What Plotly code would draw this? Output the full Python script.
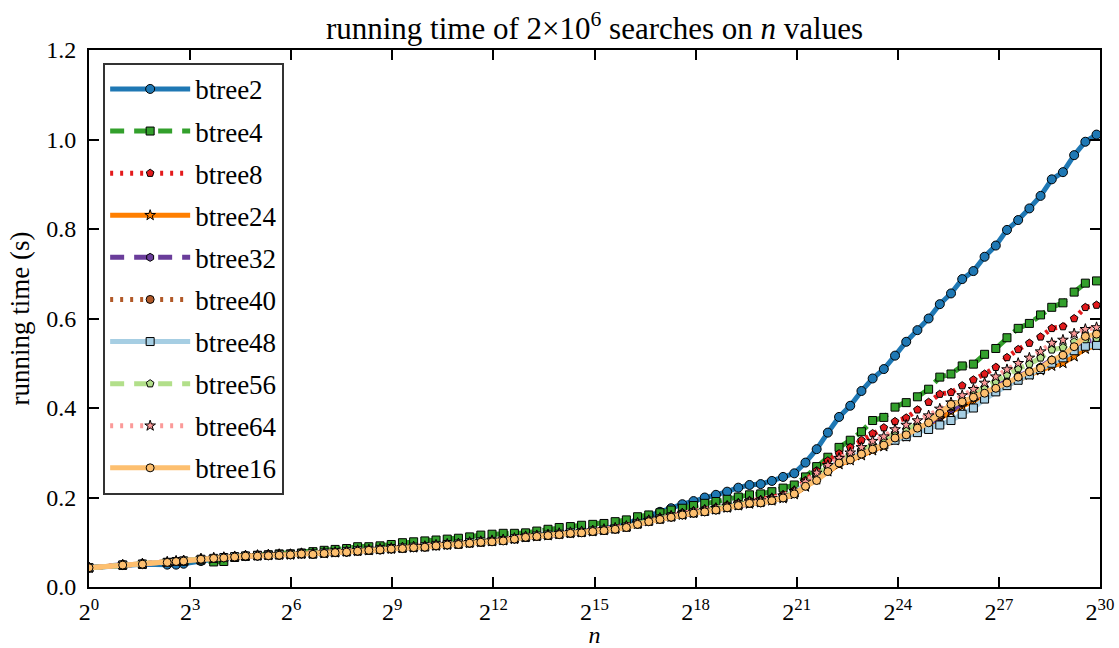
import plotly.graph_objects as go

# x values: n
N = [1, 2, 3, 5, 6, 7,
     10, 13, 16, 20, 25, 32, 40, 50, 63, 79,
     100, 126, 158, 200, 251, 316, 398, 501, 631, 794,
     1000, 1259, 1585, 1995, 2512, 3162, 3981, 5012, 6310, 7943,
     10000, 12589, 15849, 19953, 25119, 31623, 39811, 50119, 63096, 79433,
     100000, 125893, 158489, 199526, 251189, 316228, 398107, 501187, 630957, 794328,
     1000000, 1258925, 1584893, 1995262, 2511886, 3162278, 3981072, 5011872, 6309573, 7943282,
     10000000, 12589254, 15848932, 19952623, 25118864, 31622777, 39810717, 50118723, 63095734, 79432823,
     100000000, 125892541, 158489319, 199526231, 251188643, 316227766, 398107171, 501187234, 630957344, 794328235,
     1000000000]

btree2 = [0.043, 0.049, 0.051, 0.050, 0.050, 0.052,
          0.058, 0.062, 0.064, 0.067, 0.069, 0.070, 0.071, 0.072, 0.073, 0.075,
          0.074, 0.076, 0.078, 0.079, 0.081, 0.083, 0.084, 0.086, 0.087, 0.089,
          0.090, 0.093, 0.095, 0.096, 0.099, 0.101, 0.103, 0.105, 0.109, 0.113,
          0.115, 0.117, 0.119, 0.122, 0.124, 0.127, 0.130, 0.135, 0.142, 0.150,
          0.159, 0.168, 0.176, 0.185, 0.192, 0.200, 0.206, 0.213, 0.222, 0.228,
          0.230, 0.237, 0.246, 0.254, 0.278, 0.308, 0.345, 0.380, 0.405, 0.438,
          0.466, 0.487, 0.517, 0.548, 0.574, 0.600, 0.632, 0.656, 0.688, 0.706,
          0.738, 0.763, 0.798, 0.820, 0.846, 0.874, 0.911, 0.927, 0.965, 0.995,
          1.011]

btree4 = [0.043, 0.049, 0.051, 0.055, 0.057, 0.058,
          0.060, 0.056, 0.057, 0.066, 0.069, 0.071, 0.072, 0.074, 0.074, 0.076,
          0.079, 0.082, 0.084, 0.086, 0.090, 0.090, 0.092, 0.095, 0.099, 0.101,
          0.103, 0.105, 0.107, 0.109, 0.112, 0.116, 0.118, 0.120, 0.120, 0.121,
          0.125, 0.129, 0.133, 0.135, 0.138, 0.140, 0.142, 0.146, 0.150, 0.157,
          0.161, 0.166, 0.172, 0.176, 0.182, 0.187, 0.191, 0.196, 0.201, 0.206,
          0.208, 0.213, 0.221, 0.228, 0.246, 0.269, 0.290, 0.312, 0.328, 0.347,
          0.372, 0.379, 0.402, 0.412, 0.425, 0.442, 0.469, 0.476, 0.494, 0.498,
          0.520, 0.533, 0.557, 0.578, 0.589, 0.608, 0.625, 0.635, 0.659, 0.679,
          0.684]

btree8 = [0.043, 0.049, 0.051, 0.055, 0.057, 0.058,
          0.062, 0.063, 0.066, 0.068, 0.070, 0.071, 0.072, 0.073, 0.073, 0.075,
          0.075, 0.077, 0.078, 0.080, 0.082, 0.083, 0.085, 0.087, 0.088, 0.090,
          0.091, 0.094, 0.096, 0.097, 0.100, 0.102, 0.104, 0.106, 0.109, 0.113,
          0.115, 0.118, 0.120, 0.122, 0.124, 0.127, 0.129, 0.132, 0.137, 0.144,
          0.150, 0.155, 0.160, 0.166, 0.170, 0.174, 0.178, 0.183, 0.188, 0.193,
          0.195, 0.200, 0.206, 0.216, 0.238, 0.260, 0.282, 0.298, 0.312, 0.328,
          0.343, 0.356, 0.370, 0.378, 0.396, 0.413, 0.431, 0.435, 0.450, 0.463,
          0.476, 0.491, 0.513, 0.531, 0.545, 0.559, 0.578, 0.582, 0.600, 0.625,
          0.630]

btree24 = [0.043, 0.049, 0.052, 0.055, 0.057, 0.059,
           0.062, 0.064, 0.066, 0.068, 0.069, 0.070, 0.071, 0.072, 0.072, 0.074,
           0.074, 0.075, 0.077, 0.079, 0.080, 0.082, 0.084, 0.085, 0.087, 0.088,
           0.090, 0.092, 0.094, 0.096, 0.098, 0.100, 0.102, 0.104, 0.107, 0.111,
           0.113, 0.115, 0.118, 0.120, 0.122, 0.124, 0.127, 0.130, 0.134, 0.141,
           0.147, 0.152, 0.157, 0.161, 0.165, 0.169, 0.173, 0.177, 0.182, 0.186,
           0.189, 0.193, 0.198, 0.207, 0.224, 0.240, 0.258, 0.274, 0.283, 0.294,
           0.305, 0.314, 0.328, 0.336, 0.348, 0.360, 0.376, 0.392, 0.404, 0.416,
           0.428, 0.440, 0.452, 0.463, 0.474, 0.484, 0.494, 0.500, 0.515, 0.532,
           0.540]

btree32 = [0.043, 0.050, 0.051, 0.056, 0.057, 0.058,
           0.062, 0.065, 0.066, 0.068, 0.070, 0.070, 0.071, 0.072, 0.073, 0.074,
           0.074, 0.076, 0.077, 0.079, 0.081, 0.082, 0.084, 0.085, 0.087, 0.088,
           0.090, 0.092, 0.094, 0.096, 0.098, 0.100, 0.102, 0.104, 0.108, 0.111,
           0.113, 0.116, 0.118, 0.120, 0.122, 0.125, 0.127, 0.130, 0.134, 0.140,
           0.146, 0.151, 0.156, 0.161, 0.165, 0.169, 0.173, 0.177, 0.182, 0.187,
           0.189, 0.194, 0.199, 0.210, 0.228, 0.245, 0.262, 0.276, 0.287, 0.298,
           0.309, 0.320, 0.334, 0.343, 0.354, 0.365, 0.380, 0.396, 0.410, 0.422,
           0.436, 0.448, 0.460, 0.472, 0.482, 0.492, 0.508, 0.516, 0.532, 0.548,
           0.552]

btree40 = [0.043, 0.049, 0.051, 0.055, 0.058, 0.058,
           0.063, 0.064, 0.065, 0.067, 0.069, 0.070, 0.070, 0.071, 0.072, 0.074,
           0.074, 0.075, 0.077, 0.078, 0.080, 0.082, 0.083, 0.085, 0.087, 0.088,
           0.090, 0.092, 0.094, 0.095, 0.098, 0.100, 0.102, 0.104, 0.107, 0.111,
           0.113, 0.115, 0.117, 0.120, 0.122, 0.124, 0.126, 0.129, 0.133, 0.140,
           0.146, 0.151, 0.156, 0.161, 0.165, 0.168, 0.172, 0.177, 0.182, 0.187,
           0.188, 0.193, 0.199, 0.209, 0.226, 0.242, 0.260, 0.276, 0.286, 0.298,
           0.309, 0.318, 0.333, 0.341, 0.354, 0.366, 0.384, 0.402, 0.412, 0.423,
           0.434, 0.445, 0.457, 0.469, 0.480, 0.490, 0.506, 0.517, 0.535, 0.556,
           0.562]

btree48 = [0.043, 0.049, 0.051, 0.055, 0.057, 0.058,
           0.062, 0.064, 0.066, 0.068, 0.069, 0.070, 0.071, 0.072, 0.073, 0.074,
           0.074, 0.076, 0.077, 0.079, 0.081, 0.082, 0.084, 0.086, 0.087, 0.089,
           0.090, 0.093, 0.095, 0.096, 0.099, 0.101, 0.102, 0.104, 0.108, 0.111,
           0.114, 0.116, 0.118, 0.121, 0.122, 0.125, 0.127, 0.130, 0.134, 0.141,
           0.147, 0.152, 0.157, 0.162, 0.166, 0.169, 0.173, 0.178, 0.183, 0.188,
           0.190, 0.195, 0.200, 0.210, 0.230, 0.248, 0.265, 0.280, 0.290, 0.300,
           0.310, 0.318, 0.328, 0.336, 0.345, 0.352, 0.362, 0.372, 0.386, 0.400,
           0.420, 0.436, 0.450, 0.462, 0.474, 0.486, 0.500, 0.512, 0.528, 0.538,
           0.540]

btree56 = [0.043, 0.049, 0.051, 0.055, 0.057, 0.058,
           0.062, 0.064, 0.066, 0.068, 0.070, 0.070, 0.071, 0.072, 0.073, 0.075,
           0.075, 0.076, 0.078, 0.079, 0.081, 0.083, 0.084, 0.086, 0.087, 0.089,
           0.090, 0.093, 0.095, 0.097, 0.099, 0.101, 0.103, 0.105, 0.108, 0.112,
           0.114, 0.116, 0.119, 0.121, 0.123, 0.125, 0.128, 0.131, 0.135, 0.142,
           0.148, 0.153, 0.158, 0.163, 0.167, 0.171, 0.175, 0.180, 0.185, 0.190,
           0.192, 0.197, 0.202, 0.212, 0.232, 0.250, 0.268, 0.283, 0.295, 0.306,
           0.318, 0.328, 0.344, 0.352, 0.363, 0.374, 0.390, 0.404, 0.420, 0.432,
           0.446, 0.459, 0.474, 0.488, 0.498, 0.512, 0.530, 0.535, 0.548, 0.553,
           0.556]

btree64 = [0.043, 0.049, 0.051, 0.056, 0.058, 0.059,
           0.063, 0.065, 0.066, 0.068, 0.070, 0.071, 0.072, 0.073, 0.073, 0.075,
           0.075, 0.077, 0.078, 0.080, 0.082, 0.083, 0.085, 0.087, 0.088, 0.090,
           0.091, 0.094, 0.096, 0.097, 0.100, 0.102, 0.104, 0.106, 0.109, 0.113,
           0.115, 0.117, 0.120, 0.122, 0.124, 0.126, 0.129, 0.132, 0.136, 0.143,
           0.149, 0.154, 0.159, 0.164, 0.168, 0.172, 0.176, 0.181, 0.186, 0.191,
           0.193, 0.198, 0.204, 0.214, 0.235, 0.255, 0.272, 0.288, 0.300, 0.312,
           0.326, 0.336, 0.352, 0.362, 0.372, 0.383, 0.398, 0.412, 0.428, 0.442,
           0.456, 0.470, 0.486, 0.500, 0.512, 0.526, 0.545, 0.552, 0.566, 0.576,
           0.580]

btree16 = [0.043, 0.049, 0.051, 0.055, 0.057, 0.058,
           0.062, 0.064, 0.065, 0.067, 0.069, 0.069, 0.070, 0.071, 0.072, 0.074,
           0.073, 0.075, 0.077, 0.078, 0.080, 0.082, 0.083, 0.085, 0.086, 0.088,
           0.089, 0.092, 0.094, 0.095, 0.098, 0.100, 0.101, 0.103, 0.107, 0.111,
           0.113, 0.115, 0.117, 0.120, 0.121, 0.124, 0.126, 0.129, 0.133, 0.140,
           0.146, 0.151, 0.156, 0.161, 0.165, 0.168, 0.172, 0.177, 0.182, 0.187,
           0.188, 0.193, 0.199, 0.208, 0.225, 0.238, 0.258, 0.277, 0.284, 0.297,
           0.308, 0.317, 0.333, 0.340, 0.355, 0.367, 0.388, 0.408, 0.414, 0.424,
           0.433, 0.444, 0.456, 0.469, 0.481, 0.489, 0.507, 0.518, 0.537, 0.560,
           0.565]

TICK_EXP = [0, 3, 6, 9, 12, 15, 18, 21, 24, 27, 30]
Y_TICKS = [0.0, 0.2, 0.4, 0.6, 0.8, 1.0, 1.2]

series = [
    ("btree2", btree2, "#1f78b4", "solid", "circle", 9),
    ("btree4", btree4, "#33a02c", "14px,10px", "square", 8),
    ("btree8", btree8, "#e31a1c", "3px,7px", "pentagon", 8),
    ("btree24", btree24, "#ff7f00", "solid", "star", 8),
    ("btree32", btree32, "#6a3d9a", "14px,10px", "hexagon", 8),
    ("btree40", btree40, "#b15928", "3px,7px", "circle", 8),
    ("btree48", btree48, "#a6cee3", "solid", "square", 8),
    ("btree56", btree56, "#b2df8a", "14px,10px", "pentagon", 8),
    ("btree64", btree64, "#fb9a99", "3px,7px", "star", 8),
    ("btree16", btree16, "#fdbf6f", "solid", "circle", 8),
]

fig = go.Figure()
for name, ys, col, dash, sym, msz in series:
    assert len(ys) == len(N), (name, len(ys), len(N))
    fig.add_trace(go.Scatter(
        x=N, y=ys, name=name, mode="lines+markers", legendgroup=name,
        line=dict(color=col, width=5, dash=dash),
        marker=dict(symbol=sym, size=msz, color=col,
                    line=dict(color="black", width=1)),
    ))

FONT = "Liberation Serif"
axis_common = dict(showline=True, linecolor="black", linewidth=2, mirror="ticks",
                   ticks="inside", ticklen=10, tickwidth=1.5, tickcolor="black",
                   showgrid=False, zeroline=False, automargin=False,
                   tickfont=dict(family=FONT, size=24, color="black"))

W, H = 1119, 648
fig.update_layout(
    width=W, height=H,
    margin=dict(l=89, r=19, t=50, b=61),
    paper_bgcolor="white", plot_bgcolor="white",
    font=dict(family=FONT, color="black"),
    title=dict(text="running time of 2×10<sup>6</sup> searches on <i>n</i> values",
               x=0.5, xref="paper", xanchor="center", y=1 - 28 / H, yanchor="middle",
               font=dict(family=FONT, size=31, color="black")),
    xaxis=dict(type="log", range=[0, 30 * 0.30103],
               tickvals=[2 ** e for e in TICK_EXP],
               ticktext=[f"2<sup>{e}</sup>" for e in TICK_EXP],
               ticklabelstandoff=2,
               title=dict(text="<i>n</i>", font=dict(family=FONT, size=24), standoff=0),
               **axis_common),
    yaxis=dict(range=[0, 1.2], tickvals=Y_TICKS,
               ticktext=[f"{v:.1f}" for v in Y_TICKS],
               ticklabelstandoff=6,
               title=dict(text="running time (s)", font=dict(family=FONT, size=27), standoff=9),
               **axis_common),
    legend=dict(x=0.014, y=0.976, xanchor="left", yanchor="top",
                bgcolor="white", bordercolor="#333", borderwidth=2,
                font=dict(family=FONT, size=27, color="black"),
                traceorder="grouped", tracegroupgap=4, itemwidth=80),
    showlegend=True,
)

fig.write_html("out.html", config={"displayModeBar": False},
               post_script="document.body.style.margin='0';document.body.style.overflow='hidden';")
